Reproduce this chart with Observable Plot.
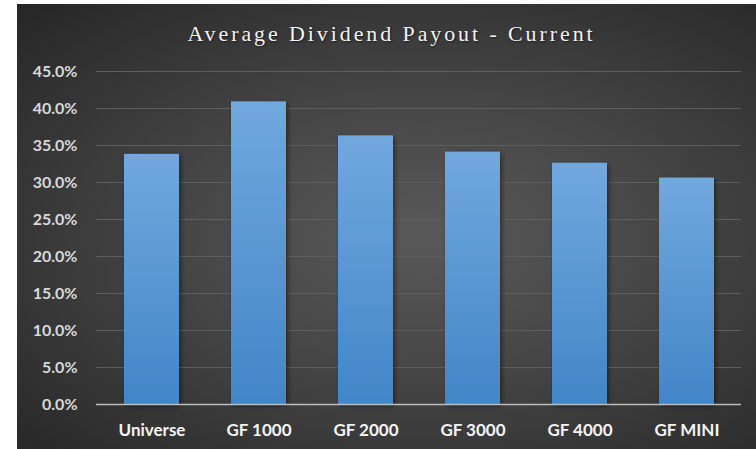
<!DOCTYPE html>
<html>
<head>
<meta charset="utf-8">
<script src="https://cdn.jsdelivr.net/npm/d3@7"></script>
<script src="https://cdn.jsdelivr.net/npm/@observablehq/plot@0.6"></script>
<style>
  html, body { margin: 0; padding: 0; background: #ffffff; width: 756px; height: 449px; overflow: hidden; }
  #panel {
    position: absolute; left: 17px; top: 4px; width: 739px; height: 445px;
    background: radial-gradient(ellipse farthest-corner at 55% 52%, #595959 0%, #474747 40%, #262626 100%);
  }
  #title {
    position: absolute; left: 13.5px; top: 22.5px; width: 756px; text-align: center;
    font-family: "Liberation Serif", "DejaVu Serif", serif; font-size: 22px; line-height: 1;
    letter-spacing: 2.9px; color: #f2f2f2; text-shadow: 1px 1px 2px rgba(0,0,0,0.55);
    white-space: nowrap;
  }
  #chart { position: absolute; left: 0; top: 0; }
</style>
</head>
<body>
<div id="panel"></div>
<div id="title">Average Dividend Payout - Current</div>
<div id="chart"></div>
<script>
const categories = ["Universe", "GF 1000", "GF 2000", "GF 3000", "GF 4000", "GF MINI"];
const payout = [0.338, 0.409, 0.363, 0.341, 0.326, 0.306];
const yTicks = [0, 0.05, 0.10, 0.15, 0.20, 0.25, 0.30, 0.35, 0.40, 0.45];

const data = categories.map((c, i) => ({category: c, value: payout[i]}));

const svg = Plot.plot({
  width: 756,
  height: 449,
  marginLeft: 96,
  marginRight: 15,
  marginTop: 71,
  marginBottom: 45,
  style: {background: "transparent", fontFamily: "Lato, 'Open Sans', sans-serif", overflow: "visible"},
  x: {domain: categories, paddingInner: 0.49, paddingOuter: 0.245, label: null},
  y: {domain: [0, 0.45], label: null},
  marks: [
    Plot.gridY(yTicks.filter(d => d > 0), {stroke: "#5e5e5e", strokeOpacity: 1, strokeWidth: 1.2}),
    Plot.barY(data, {x: "category", y: "value", fill: "url(#barGrad)"}),
    Plot.ruleY([0], {stroke: "#bdbdbd", strokeWidth: 1.5}),
    Plot.axisY({ticks: yTicks, tickFormat: d3.format(".1%"), tickSize: 0, tickPadding: 19,
      fill: "#d9d9d9", fontSize: 16, fontWeight: "bold", label: null}),
    Plot.axisX({tickSize: 0, tickPadding: 19, fill: "#f4f4f4", fontSize: 17, fontWeight: "bold", label: null})
  ]
});

const ns = "http://www.w3.org/2000/svg";
const defs = document.createElementNS(ns, "defs");
defs.innerHTML = `
  <linearGradient id="barGrad" x1="0" y1="0" x2="0" y2="1">
    <stop offset="0" stop-color="#71a8de"/>
    <stop offset="1" stop-color="#4286c8"/>
  </linearGradient>
  <filter id="shadow" x="-20%" y="-20%" width="150%" height="150%">
    <feDropShadow dx="2" dy="2" stdDeviation="2.5" flood-color="#000" flood-opacity="0.45"/>
  </filter>`;
svg.insertBefore(defs, svg.firstChild);
d3.select(svg).selectAll("g[aria-label='bar'] rect").attr("filter", "url(#shadow)");

document.getElementById("chart").appendChild(svg);
</script>
</body>
</html>
